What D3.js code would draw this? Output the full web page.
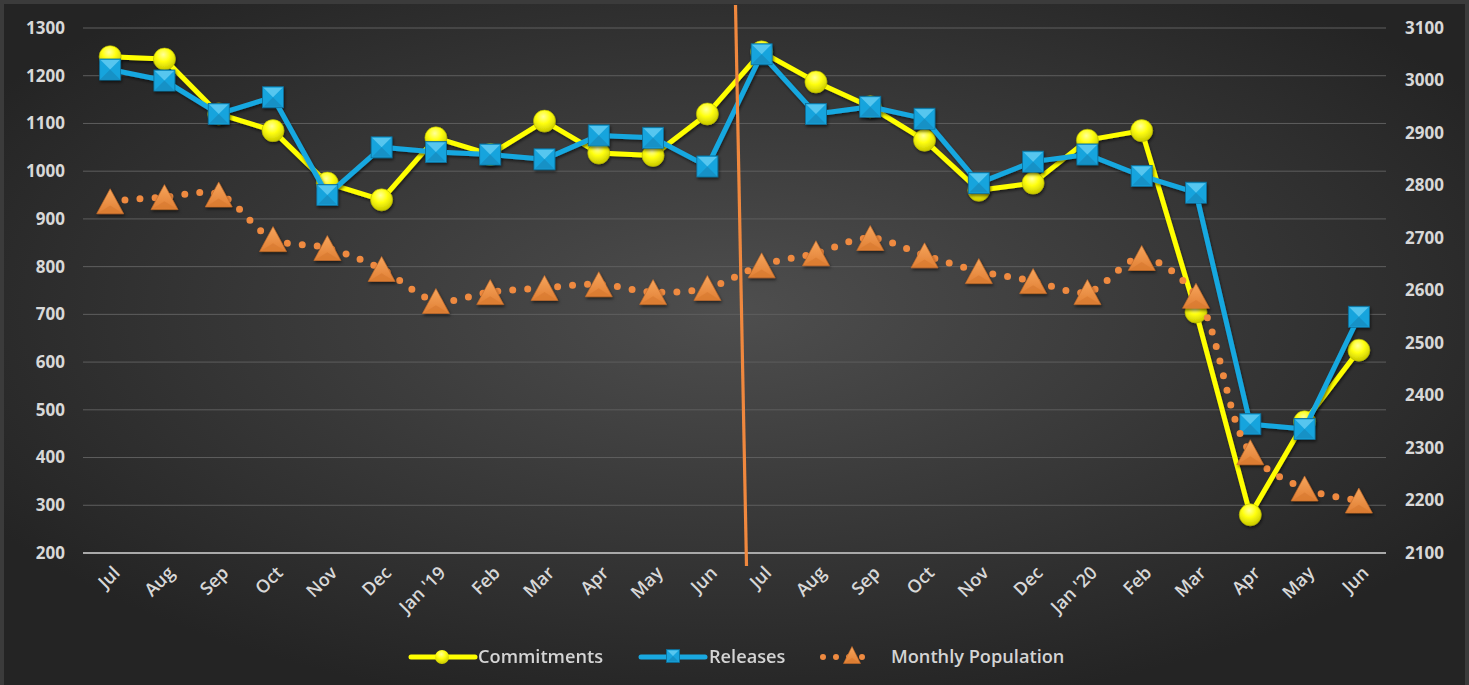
<!DOCTYPE html>
<html><head><meta charset="utf-8">
<script src="https://cdn.jsdelivr.net/npm/d3@7"></script>
<style>body{margin:0;background:#3b3b3b;overflow:hidden}svg{display:block}</style>
</head><body><svg id="c" width="1469" height="685"></svg>
<script>
const months = ["Jul","Aug","Sep","Oct","Nov","Dec","Jan '19","Feb","Mar","Apr","May","Jun","Jul","Aug","Sep","Oct","Nov","Dec","Jan '20","Feb","Mar","Apr","May","Jun"];
const commitments = [1240,1235,1120,1085,975,940,1070,1035,1105,1038,1033,1120,1250,1187,1135,1065,960,975,1065,1085,705,280,475,625];
const releases = [1213,1190,1120,1155,950,1050,1040,1035,1025,1075,1070,1010,1245,1120,1135,1110,975,1020,1035,990,955,470,460,695];
const population = [2770,2778,2783,2698,2681,2641,2580,2597,2605,2612,2597,2605,2648,2671,2700,2667,2637,2618,2597,2662,2590,2292,2223,2200];
const leftTicks = [200,300,400,500,600,700,800,900,1000,1100,1200,1300];
const rightTicks = [2100,2200,2300,2400,2500,2600,2700,2800,2900,3000,3100];
const seriesNames = ["Commitments","Releases","Monthly Population"];

const svg = d3.select("#c");
const W = 1469, H = 685;
const plot = {left: 83, right: 1386, top: 28, bottom: 553};

const defs = svg.append("defs");
const bg = defs.append("radialGradient").attr("id","bg").attr("cx","50%").attr("cy","45%").attr("r","60%");
bg.append("stop").attr("offset","0%").attr("stop-color","#4e4e4e");
bg.append("stop").attr("offset","100%").attr("stop-color","#242424");
const yg = defs.append("radialGradient").attr("id","yg").attr("cx","45%").attr("cy","30%").attr("r","70%");
yg.append("stop").attr("offset","0%").attr("stop-color","#ffff9a");
yg.append("stop").attr("offset","45%").attr("stop-color","#ffff10");
yg.append("stop").attr("offset","100%").attr("stop-color","#c8c800");
const og = defs.append("linearGradient").attr("id","og").attr("x1","0").attr("y1","0").attr("x2","0").attr("y2","1");
og.append("stop").attr("offset","0%").attr("stop-color","#f7a55c");
og.append("stop").attr("offset","100%").attr("stop-color","#e07f34");
const sh = defs.append("filter").attr("id","sh").attr("x","-30%").attr("y","-30%").attr("width","160%").attr("height","160%");
sh.append("feDropShadow").attr("dx",1).attr("dy",2).attr("stdDeviation",1.5).attr("flood-color","#000").attr("flood-opacity",0.55);

svg.append("rect").attr("width",W).attr("height",H).attr("fill","#3b3b3b");
svg.append("rect").attr("x",4).attr("y",4).attr("width",W-8).attr("height",H-4).attr("fill","url(#bg)");

const x = d3.scaleBand().domain(d3.range(months.length)).range([plot.left, plot.right]);
const cx = i => x(i) + x.bandwidth()/2;
const yL = d3.scaleLinear().domain([200,1300]).range([plot.bottom, plot.top]);
const yR = d3.scaleLinear().domain([2100,3100]).range([plot.bottom, plot.top]);

const font = "'Open Sans', sans-serif";
// gridlines
svg.append("g").selectAll("line").data(leftTicks.filter(d=>d>200)).join("line")
  .attr("x1",plot.left).attr("x2",plot.right).attr("y1",d=>yL(d)).attr("y2",d=>yL(d))
  .attr("stroke","#5e5e5e").attr("stroke-width",1);
svg.append("line").attr("x1",plot.left).attr("x2",plot.right).attr("y1",yL(200)).attr("y2",yL(200))
  .attr("stroke","#a9a9a9").attr("stroke-width",2);

// left axis
const axL = svg.append("g").attr("transform",`translate(${plot.left},0)`)
  .call(d3.axisLeft(yL).tickValues(leftTicks).tickFormat(d3.format("d")).tickSize(0).tickPadding(18));
axL.select(".domain").remove();
axL.selectAll("text").attr("fill","#d8d8d8").attr("font-family",font).attr("font-weight",700).attr("font-size","17px");
const axR = svg.append("g").attr("transform",`translate(${plot.right},0)`)
  .call(d3.axisRight(yR).tickValues(rightTicks).tickFormat(d3.format("d")).tickSize(0).tickPadding(19));
axR.select(".domain").remove();
axR.selectAll("text").attr("fill","#d8d8d8").attr("font-family",font).attr("font-weight",700).attr("font-size","17px");

// x axis
const axB = svg.append("g").attr("transform",`translate(0,${plot.bottom})`)
  .call(d3.axisBottom(x).tickSize(0).tickFormat(i=>months[i]));
axB.select(".domain").remove();
axB.selectAll("text").attr("fill","#d8d8d8").attr("font-family",font).attr("font-weight",600).attr("font-size","18px")
  .attr("text-anchor","end").attr("dy",0).attr("y",0)
  .attr("transform","translate(11,21) rotate(-45)");

// lines
const lineC = d3.line().x((d,i)=>cx(i)).y(d=>yL(d));
const lineP = d3.line().x((d,i)=>cx(i)).y(d=>yR(d)).curve(d3.curveCatmullRom.alpha(0.5));

const gC = svg.append("g").attr("filter","url(#sh)");
gC.append("path").datum(commitments).attr("d",lineC).attr("fill","none").attr("stroke","#ffff00").attr("stroke-width",5).attr("stroke-linejoin","round");
gC.selectAll("circle").data(commitments).join("circle").attr("cx",(d,i)=>cx(i)).attr("cy",d=>yL(d)).attr("r",11)
  .attr("fill","url(#yg)").attr("stroke","#b5b500").attr("stroke-width",0.6);

function square(g, x0, y0, s) {
  const h = s/2;
  g.append("rect").attr("x",x0-h).attr("y",y0-h).attr("width",s).attr("height",s).attr("fill","#18a4dd").attr("stroke","#0b6e98").attr("stroke-width",0.8);
  g.append("path").attr("d",`M${x0-h+1},${y0-h+1}L${x0+h-1},${y0-h+1}L${x0},${y0}Z`).attr("fill","#56c6ef");
  g.append("path").attr("d",`M${x0-h+1},${y0+h-1}L${x0+h-1},${y0+h-1}L${x0},${y0}Z`).attr("fill","#1491c6");
}
const gR = svg.append("g").attr("filter","url(#sh)");
gR.append("path").datum(releases).attr("d",lineC).attr("fill","none").attr("stroke","#19a8e0").attr("stroke-width",5).attr("stroke-linejoin","round");
releases.forEach((d,i)=>square(gR, cx(i), yL(d), 21));

function tri(g, x0, y0, w, h) {
  g.append("path").attr("d",`M${x0},${y0-h/2}L${x0+w/2},${y0+h/2}L${x0-w/2},${y0+h/2}Z`)
    .attr("fill","url(#og)").attr("stroke","#c46a26").attr("stroke-width",0.6);
  g.append("path").attr("d",`M${x0},${y0+h/6}L${x0+w/2-2},${y0+h/2-1}L${x0-w/2+2},${y0+h/2-1}Z`).attr("fill","#d97a30").attr("opacity",0.7);
}
const gP = svg.append("g");
gP.append("path").datum(population).attr("d",lineP).attr("fill","none").attr("stroke","#ef8a40")
  .attr("stroke-width",7).attr("stroke-linecap","round").attr("stroke-dasharray","0 15");
const gPm = gP.append("g").attr("filter","url(#sh)");
population.forEach((d,i)=>tri(gPm, cx(i), yR(d), 27, 25));

// divider line
const bx = x(12);
svg.append("line").attr("x1",bx+1).attr("y1",5).attr("x2",bx+12).attr("y2",566)
  .attr("stroke","#f0883e").attr("stroke-width",3.2);

// legend
const lg = svg.append("g").attr("font-family",font).attr("font-weight",600).attr("font-size","18.2px").attr("fill","#d4d4d4");
lg.append("line").attr("x1",411).attr("x2",475).attr("y1",657).attr("y2",657).attr("stroke","#ffff00").attr("stroke-width",5).attr("stroke-linecap","round");
lg.append("circle").attr("cx",442).attr("cy",657).attr("r",7).attr("fill","url(#yg)");
lg.append("text").attr("x",478).attr("y",663).text(seriesNames[0]);
const ls = lg.append("g");
ls.append("line").attr("x1",641).attr("x2",705).attr("y1",657).attr("y2",657).attr("stroke","#19a8e0").attr("stroke-width",5).attr("stroke-linecap","round");
square(ls, 673, 656, 13);
lg.append("text").attr("x",709).attr("y",663).text(seriesNames[1]);
lg.append("line").attr("x1",823).attr("x2",870).attr("y1",657).attr("y2",657).attr("stroke","#ef8a40").attr("stroke-width",6).attr("stroke-linecap","round").attr("stroke-dasharray","0 13");
tri(lg, 852, 655, 17, 17);
lg.append("text").attr("x",891).attr("y",663).text(seriesNames[2]);
</script></body></html>
